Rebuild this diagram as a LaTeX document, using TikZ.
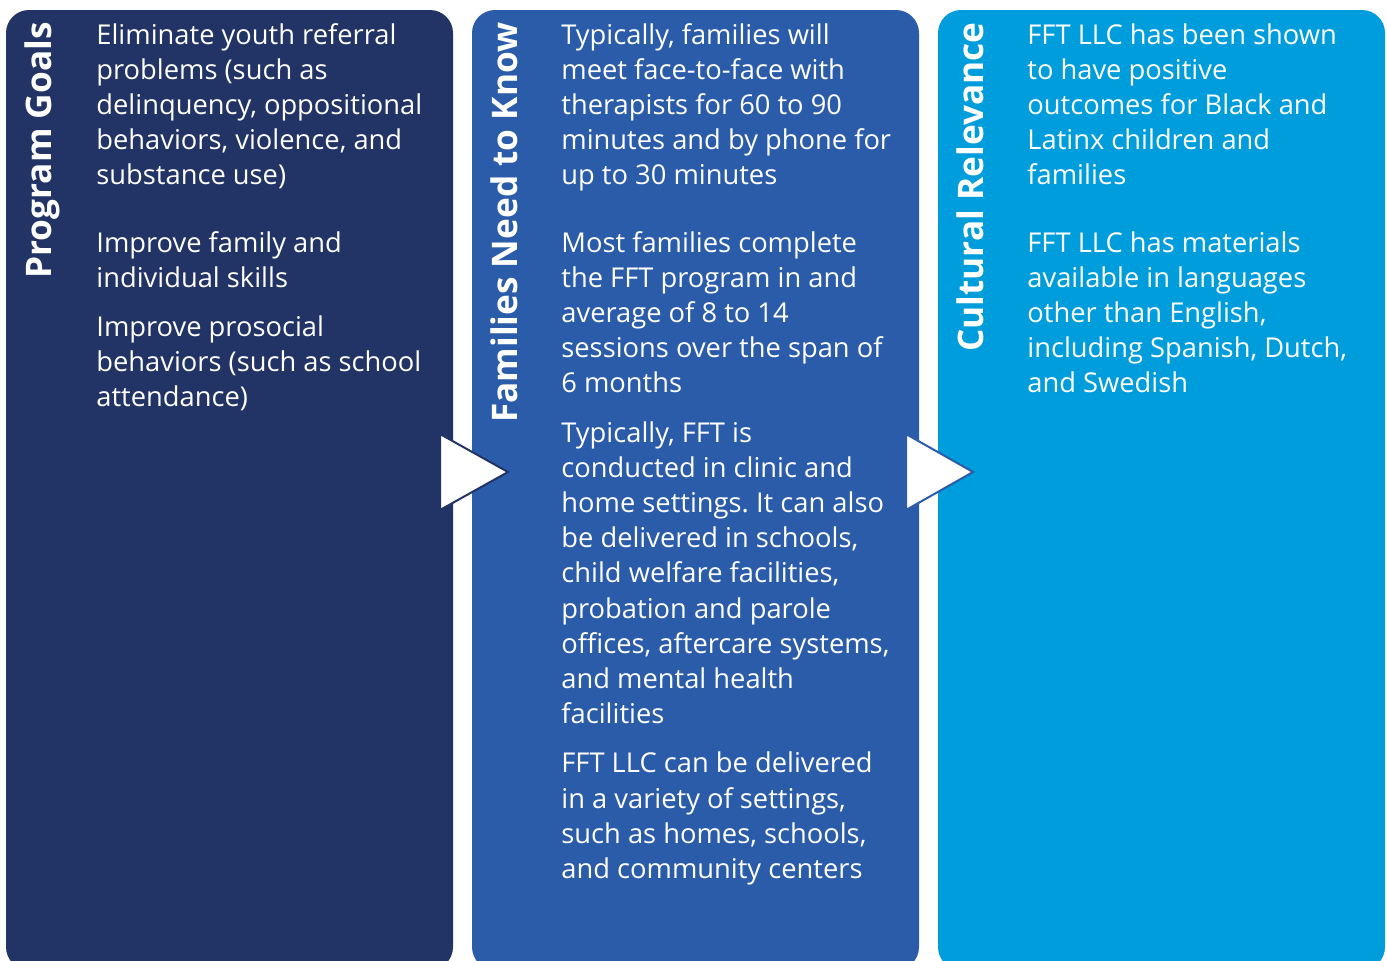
\documentclass[tikz,border=0pt]{standalone}
\usepackage{fontspec}
\setmainfont{Open Sans}
\frenchspacing
\usetikzlibrary{positioning}
\definecolor{goalnavy}{HTML}{223366}
\definecolor{needblue}{HTML}{2B5CAA}
\definecolor{cultcyan}{HTML}{009DDC}
\tikzset{
  font={\fontsize{13.65pt}{17.6pt}\selectfont}}

\begin{document}
\begin{tikzpicture}[x=0.5pt, y=0.5pt,
  panel/.style={shape=rectangle, rounded corners=11.5pt, minimum width=223.5pt, minimum height=480pt, inner sep=0pt, outer sep=0pt, anchor=north west},
  title/.style={rotate=90, anchor=base east, inner sep=0pt, text=white, font={\fontsize{17.6pt}{20pt}\bfseries\selectfont}},
  body/.style={anchor=north west, inner sep=0pt, align=left, text=white},
  pointer/.style={fill=white, line width=1pt, line join=miter}]
\useasboundingbox (0,0) rectangle (1387,-960);
% three columns
\node (pg) [panel, fill=goalnavy] at (6,-10) {};
\node (fn) [panel, fill=needblue, right=9.5pt of pg.north east, anchor=north west] {};
\node (cr) [panel, fill=cultcyan, right=9.5pt of fn.north east, anchor=north west] {};
% arrows between columns
\draw[pointer, draw=goalnavy] (440,-434) -- (508,-472) -- (440,-510) -- cycle;
\draw[pointer, draw=needblue] (906,-434) -- (973,-472) -- (906,-510) -- cycle;
% column titles
\node (pgt) [title] at (51,-22) {Program Goals};
\node (fnt) [title] at (517,-22) {Families Need to Know};
\node (crt) [title] at (983,-22) {Cultural Relevance};
% column texts
\node (pgb) [body] at (96,-19) {\strut Eliminate youth referral\\
  problems (such as\\
  delinquency, oppositional\\
  behaviors, violence, and\\
  substance use)\\[16pt]
  Improve family and\\
  individual skills\\[7pt]
  Improve prosocial\\
  behaviors (such as school\\
  attendance)};
\node (fnb) [body] at (561,-19) {\strut Typically, families will\\
  meet face-to-face with\\
  therapists for 60 to 90\\
  minutes and by phone for\\
  up to 30 minutes\\[16pt]
  Most families complete\\
  the FFT program in and\\
  average of 8 to 14\\
  sessions over the span of\\
  6 months\\[7pt]
  Typically, FFT is\\
  conducted in clinic and\\
  home settings. It can also\\
  be delivered in schools,\\
  child welfare facilities,\\
  probation and parole\\
  offices, aftercare systems,\\
  and mental health\\
  facilities\\[7pt]
  FFT LLC can be delivered\\
  in a variety of settings,\\
  such as homes, schools,\\
  and community centers};
\node (crb) [body] at (1027,-19) {\strut FFT LLC has been shown\\
  to have positive\\
  outcomes for Black and\\
  Latinx children and\\
  families\\[16pt]
  FFT LLC has materials\\
  available in languages\\
  other than English,\\
  including Spanish, Dutch,\\
  and Swedish};
\end{tikzpicture}
\end{document}
